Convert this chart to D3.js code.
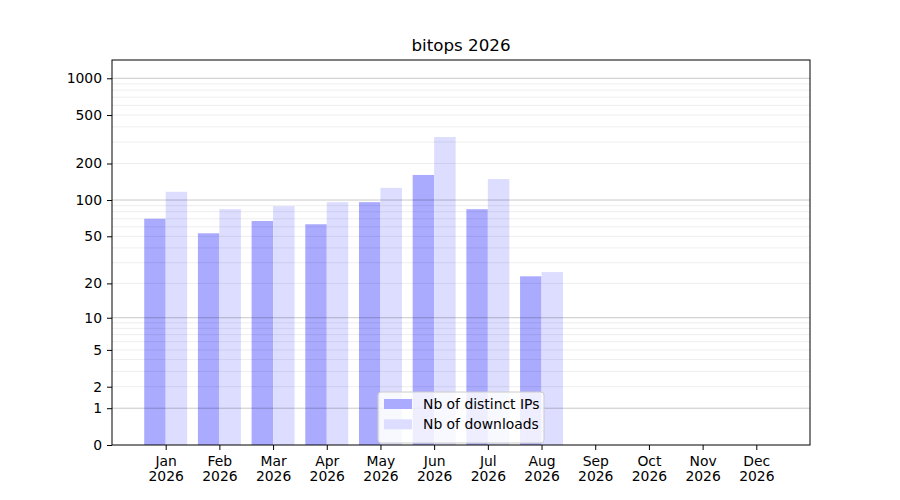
<!DOCTYPE html>
<html>
<head>
<meta charset="utf-8">
<script src="https://cdn.jsdelivr.net/npm/d3@7"></script>
<style>
    body { margin: 0; background: #fff; }
    text { font-family: "DejaVu Sans", sans-serif; fill: #000; }
</style>
</head>
<body>
<svg width="900" height="500"></svg>
<script>
// данные графика
const months = ['Jan', 'Feb', 'Mar', 'Apr', 'May', 'Jun', 'Jul', 'Aug', 'Sep', 'Oct', 'Nov', 'Dec'];
const year = '2026';
const distinctIps = [70, 53, 67, 63, 96, 161, 84, 23, null, null, null, null];
const downloads = [117, 84, 89, 96, 126, 330, 149, 25, null, null, null, null];
const tickLabels = [0, 1, 2, 5, 10, 20, 50, 100, 200, 500, 1000];
const decadeGrid = [1, 10, 100, 1000];
const minorGrid = [2, 3, 4, 5, 6, 7, 8, 9, 20, 30, 40, 50, 60, 70, 80, 90, 200, 300, 400, 500, 600, 700, 800, 900];
const seriesNames = ['Nb of distinct IPs', 'Nb of downloads'];

const marginLeft = 112;
const marginRight = 90;
const marginTop = 60;
const marginBottom = 55;
const width = 900;
const height = 500;

const svg = d3.select('svg');

// шкалы: по OX индексы месяцев, по OY symlog (log(1+x))
const scaleX = d3.scaleLinear().domain([-1, 12]).range([marginLeft, width - marginRight]);
const scaleY = d3.scaleSymlog().constant(1).domain([0, 1412]).range([height - marginBottom, marginTop]);

const barW = scaleX(0.4) - scaleX(0);

// столбцы
svg.append('g').selectAll('rect')
    .data(distinctIps.map((v, i) => ({i, v})).filter(d => d.v !== null))
    .enter()
    .append('rect')
    .attr('x', d => scaleX(d.i - 0.4))
    .attr('y', d => scaleY(d.v))
    .attr('width', barW)
    .attr('height', d => scaleY(0) - scaleY(d.v))
    .style('fill', '#aaaaff');

svg.append('g').selectAll('rect')
    .data(downloads.map((v, i) => ({i, v})).filter(d => d.v !== null))
    .enter()
    .append('rect')
    .attr('x', d => scaleX(d.i))
    .attr('y', d => scaleY(d.v))
    .attr('width', barW)
    .attr('height', d => scaleY(0) - scaleY(d.v))
    .style('fill', '#ddddff');

// сетка поверх столбцов
svg.append('g').selectAll('line')
    .data(minorGrid)
    .enter()
    .append('line')
    .attr('x1', marginLeft).attr('x2', width - marginRight)
    .attr('y1', d => scaleY(d)).attr('y2', d => scaleY(d))
    .style('stroke', 'rgba(0,0,0,0.07)')
    .style('stroke-width', 1);

svg.append('g').selectAll('line')
    .data(decadeGrid)
    .enter()
    .append('line')
    .attr('x1', marginLeft).attr('x2', width - marginRight)
    .attr('y1', d => scaleY(d)).attr('y2', d => scaleY(d))
    .style('stroke', 'rgba(0,0,0,0.22)')
    .style('stroke-width', 1);

// рамка
svg.append('rect')
    .attr('x', marginLeft).attr('y', marginTop)
    .attr('width', width - marginLeft - marginRight)
    .attr('height', height - marginTop - marginBottom)
    .style('fill', 'none')
    .style('stroke', '#000')
    .style('stroke-width', 1);

// ось OY
const axisY = d3.axisLeft(scaleY)
    .tickValues(tickLabels)
    .tickFormat(d3.format('d'))
    .tickSizeOuter(0)
    .tickSize(5)
    .tickPadding(5);

svg.append('g')
    .attr('transform', `translate(${marginLeft}, 0)`)
    .call(axisY)
    .call(g => g.select('.domain').remove())
    .selectAll('text')
    .style('font-size', '13.9px')
    .style('font-family', '"DejaVu Sans", sans-serif');

// ось OX
const axisX = d3.axisBottom(scaleX)
    .tickValues(d3.range(months.length))
    .tickFormat('')
    .tickSizeOuter(0)
    .tickSize(5);

const gx = svg.append('g')
    .attr('transform', `translate(0, ${height - marginBottom})`)
    .call(axisX);
gx.select('.domain').remove();

gx.selectAll('g.tick')
    .append('text')
    .attr('y', 21)
    .style('text-anchor', 'middle')
    .style('font-size', '13.9px')
    .style('fill', '#000')
    .text(d => months[d]);

gx.selectAll('g.tick')
    .append('text')
    .attr('y', 36)
    .style('text-anchor', 'middle')
    .style('font-size', '13.9px')
    .style('fill', '#000')
    .text(year);

// заголовок
svg.append('text')
    .attr('x', (marginLeft + width - marginRight) / 2)
    .attr('y', 51)
    .style('text-anchor', 'middle')
    .style('font-size', '16.7px')
    .text('bitops ' + year);

// легенда
const legend = svg.append('g').attr('transform', 'translate(378, 392)');
legend.append('rect')
    .attr('width', 166).attr('height', 51)
    .attr('rx', 3)
    .style('fill', 'rgba(255,255,255,0.8)')
    .style('stroke', '#cccccc');

const legendColors = ['#aaaaff', '#ddddff'];
seriesNames.forEach((name, k) => {
    legend.append('rect')
        .attr('x', 6).attr('y', 7 + k * 20.3)
        .attr('width', 28).attr('height', 10)
        .style('fill', legendColors[k]);
    legend.append('text')
        .attr('x', 45).attr('y', 17 + k * 20.3)
        .style('font-size', '13.9px')
        .text(name);
});
</script>
</body>
</html>
